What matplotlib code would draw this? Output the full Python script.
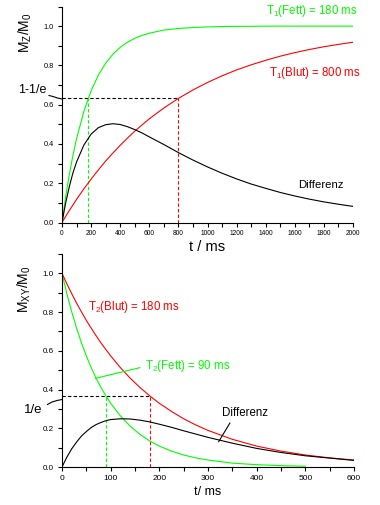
import matplotlib
matplotlib.use("Agg")
import matplotlib.pyplot as plt
from matplotlib.lines import Line2D
from matplotlib.ticker import MultipleLocator, FormatStrFormatter

plt.rcParams['font.family'] = ['Liberation Sans', 'DejaVu Sans']
plt.rcParams['mathtext.fontset'] = 'custom'
plt.rcParams['mathtext.rm'] = 'Liberation Sans'
plt.rcParams['mathtext.it'] = 'Liberation Sans'

# --- data: T1 relaxation (top panel) ---
t1_time = [0, 25, 50, 75, 100, 150, 200, 250, 300, 350, 400, 450, 500, 550, 600,
           700, 800, 900, 1000, 1100, 1200, 1300, 1400, 1500, 1600, 1700, 1800,
           1900, 2000]
mz_fett = [0.0, 0.130, 0.243, 0.341, 0.426, 0.565, 0.671, 0.751, 0.811, 0.857,
           0.892, 0.918, 0.938, 0.953, 0.964, 0.980, 0.988, 0.993, 0.996, 0.998,
           0.999, 0.999, 1.0, 1.0, 1.0, 1.0, 1.0, 1.0, 1.0]
mz_blut = [0.0, 0.031, 0.061, 0.089, 0.118, 0.171, 0.221, 0.268, 0.313, 0.354,
           0.393, 0.430, 0.465, 0.497, 0.528, 0.583, 0.632, 0.675, 0.713, 0.747,
           0.777, 0.803, 0.826, 0.847, 0.865, 0.881, 0.895, 0.907, 0.918]
mz_diff = [0.0, 0.099, 0.182, 0.252, 0.308, 0.394, 0.450, 0.483, 0.498, 0.503,
           0.499, 0.488, 0.473, 0.456, 0.436, 0.397, 0.356, 0.318, 0.283, 0.251,
           0.222, 0.196, 0.174, 0.153, 0.135, 0.119, 0.105, 0.093, 0.082]

# --- data: T2 relaxation (bottom panel) ---
t2_time = [0, 10, 20, 30, 40, 50, 60, 70, 80, 90, 100, 120, 140, 160, 180, 200,
           225, 250, 275, 300, 350, 400, 450, 500, 550, 600]
mxy_blut = [1.0, 0.946, 0.895, 0.846, 0.801, 0.757, 0.717, 0.678, 0.641, 0.607,
            0.574, 0.513, 0.459, 0.411, 0.368, 0.329, 0.287, 0.249, 0.217, 0.189,
            0.143, 0.108, 0.082, 0.062, 0.047, 0.036]
mxy_fett = [1.0, 0.895, 0.801, 0.717, 0.641, 0.574, 0.513, 0.459, 0.411, 0.368,
            0.329, 0.264, 0.211, 0.169, 0.135, 0.108, 0.082, 0.062, 0.047, 0.036,
            0.020, 0.012, 0.007, 0.004]
mxy_diff = [0.0, 0.051, 0.094, 0.129, 0.160, 0.183, 0.204, 0.219, 0.230, 0.239,
            0.245, 0.249, 0.248, 0.242, 0.233, 0.221, 0.205, 0.187, 0.170, 0.153,
            0.123, 0.096, 0.075, 0.058, 0.046, 0.034]

T1_FETT, T1_BLUT = 180, 800
T2_FETT, T2_BLUT = 90, 180
LEVEL_T1 = 0.632   # 1 - 1/e
LEVEL_T2 = 0.368   # 1/e

GREEN = '#00ff00'
RED = '#ff0000'
LW = 0.8
DASH = (0, (3, 2))

W, H = 380, 505
fig = plt.figure(figsize=(W / 100, H / 100), dpi=100)


def style_axes(ax, xmax, xmajor, xminor, xfs, yfs):
    for s in ('top', 'right'):
        ax.spines[s].set_visible(False)
    for s in ('left', 'bottom'):
        ax.spines[s].set_linewidth(0.8)
    ax.set_xlim(0, xmax)
    ax.set_ylim(0, 1.1)
    ax.xaxis.set_major_locator(MultipleLocator(xmajor))
    ax.xaxis.set_minor_locator(MultipleLocator(xminor))
    ax.yaxis.set_major_locator(MultipleLocator(0.2))
    ax.yaxis.set_minor_locator(MultipleLocator(0.1))
    ax.yaxis.set_major_formatter(FormatStrFormatter('%.1f'))
    ax.tick_params(which='both', direction='out', width=0.8)
    ax.tick_params(which='major', length=3)
    ax.tick_params(which='minor', length=3)
    ax.tick_params(axis='x', labelsize=xfs, pad=2.5)
    ax.tick_params(axis='y', labelsize=yfs, pad=3)
    ax.set_yticks([0.0, 0.2, 0.4, 0.6, 0.8, 1.0])


def px_line(xs, ys, **kw):
    # small pointer curves drawn in figure pixel coordinates
    fig.add_artist(Line2D([x / W for x in xs], [1 - y / H for y in ys],
                          transform=fig.transFigure, color='black', lw=LW, **kw))


# ---------------- top panel: longitudinal magnetisation ----------------
ax1 = fig.add_axes([62 / W, 1 - 222.5 / H, 291 / W, 216 / H])
style_axes(ax1, 2000, 200, 100, 4.8, 5.3)

ax1.plot([0, T1_BLUT], [LEVEL_T1, LEVEL_T1], color='black', lw=LW, ls=DASH)
ax1.plot([T1_FETT, T1_FETT], [0, LEVEL_T1], color=GREEN, lw=LW, ls=DASH)
ax1.plot([T1_BLUT, T1_BLUT], [0, LEVEL_T1], color=RED, lw=LW, ls=DASH)

ax1.plot(t1_time, mz_fett, color=GREEN, lw=LW)
ax1.plot(t1_time, mz_blut, color=RED, lw=LW)
ax1.plot(t1_time, mz_diff, color='black', lw=LW)

ax1.text(1405, 1.079, r'T$_1$(Fett) = 180 ms', color=GREEN, fontsize=8.3,
         va='center', ha='left', clip_on=False)
ax1.text(1420, 0.763, r'T$_1$(Blut) = 800 ms', color=RED, fontsize=8.3,
         va='center', ha='left')
ax1.text(1622, 0.191, 'Differenz', color='black', fontsize=8.2,
         va='center', ha='left')

ax1.set_xlabel('t / ms', fontsize=10.5, labelpad=2)
fig.text(25 / W, 1 - 33 / H, r'M$_\mathrm{Z}$/M$_\mathrm{0}$', rotation=90,
         fontsize=10, ha='center', va='center')
fig.text(32 / W, 1 - 90.5 / H, '1-1/e', fontsize=9, ha='center', va='center')
px_line([49, 53, 57.5, 62], [95.5, 96.5, 98, 99])

# ---------------- bottom panel: transverse magnetisation ----------------
ax2 = fig.add_axes([62 / W, 1 - 467 / H, 292 / W, 213 / H])
style_axes(ax2, 600, 100, 50, 6, 5.8)

ax2.plot([0, T2_BLUT], [LEVEL_T2, LEVEL_T2], color='black', lw=LW, ls=DASH)
ax2.plot([T2_FETT, T2_FETT], [0, LEVEL_T2], color=GREEN, lw=LW, ls=DASH)
ax2.plot([T2_BLUT, T2_BLUT], [0, LEVEL_T2], color=RED, lw=LW, ls=DASH)

ax2.plot(t2_time[:len(mxy_fett)], mxy_fett, color=GREEN, lw=LW)
ax2.plot(t2_time, mxy_blut, color=RED, lw=LW)
ax2.plot(t2_time, mxy_diff, color='black', lw=LW)

ax2.text(54, 0.828, r'T$_2$(Blut) = 180 ms', color=RED, fontsize=8.3,
         va='center', ha='left')
ax2.text(170, 0.522, r'T$_2$(Fett) = 90 ms', color=GREEN, fontsize=8.3,
         va='center', ha='left')
ax2.plot([69, 160], [0.458, 0.513], color=GREEN, lw=LW)
ax2.text(329, 0.279, 'Differenz', color='black', fontsize=8.3,
         va='center', ha='left')
ax2.plot([345, 322], [0.227, 0.131], color='black', lw=LW)

ax2.set_xlabel('t/ ms', fontsize=9, labelpad=3)
fig.text(24.5 / W, 1 - 289 / H, r'M$_\mathrm{XY}$/M$_\mathrm{0}$', rotation=90,
         fontsize=10, ha='center', va='center')
fig.text(33 / W, 1 - 410 / H, '1/e', fontsize=9.5, ha='center', va='center')
px_line([47.5, 52, 57, 62], [404.5, 402, 400.5, 399.5])

fig.savefig('out.png', dpi=100)
